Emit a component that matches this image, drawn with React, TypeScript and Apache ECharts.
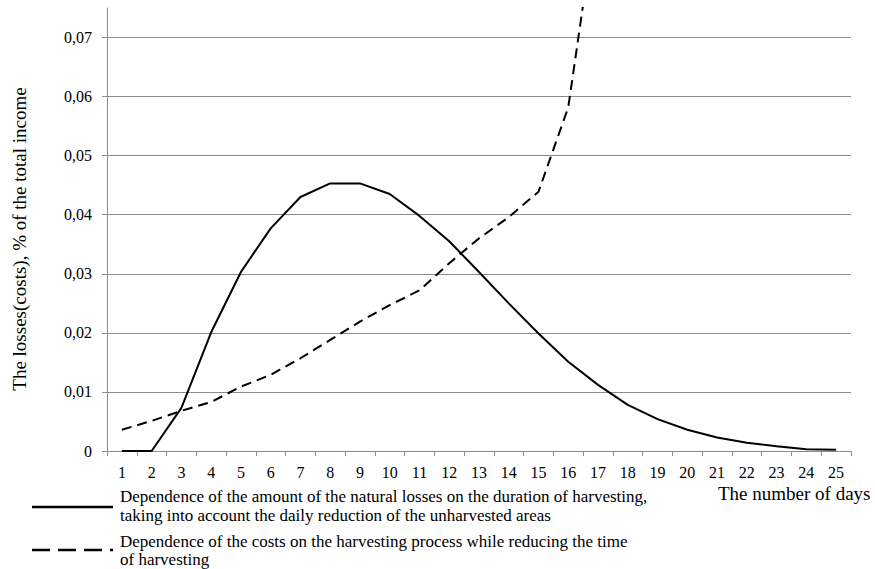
import React, { useEffect, useRef } from "react";
import * as echarts from "echarts";

const days = ["1","2","3","4","5","6","7","8","9","10","11","12","13","14","15","16","17","18","19","20","21","22","23","24","25"];
const naturalLosses = [0, 0, 0.0073, 0.0201, 0.0303, 0.0377, 0.043, 0.0453, 0.0453, 0.0435, 0.0398, 0.0355, 0.0303, 0.025, 0.0199, 0.0151, 0.0112, 0.0078, 0.0054, 0.0036, 0.0023, 0.0014, 0.0008, 0.0003, 0.0002];
const harvestCosts = [0.0036, 0.0051, 0.0068, 0.0083, 0.0109, 0.0129, 0.0157, 0.0188, 0.0219, 0.0247, 0.0272, 0.0318, 0.036, 0.0396, 0.0439, 0.0582, 0.093];
const yTicks = [0, 0.01, 0.02, 0.03, 0.04, 0.05, 0.06, 0.07];

const yName = "The losses(costs), % of the total income";
const xName = "The number of days";
const legend1a = "Dependence of the amount of the natural losses on the duration of harvesting,";
const legend1b = "taking into account the daily reduction of the unharvested areas";
const legend2a = "Dependence of the costs on the harvesting process while reducing the time";
const legend2b = "of harvesting";

const FONT = "Liberation Serif";
const GRAY = "#8c8c8c";

export default function App() {
  const ref = useRef<HTMLDivElement>(null);
  useEffect(() => {
    if (!ref.current) return;
    const chart = echarts.init(ref.current, null, { renderer: "svg" });
    const txt = (text: string, size: number, x: number, y: number, rotation = 0, align = "left") => ({
      type: "text",
      x,
      y,
      rotation,
      style: {
        text,
        fill: "#000",
        fontFamily: FONT,
        fontSize: size,
        align,
        verticalAlign: "middle",
      },
    });
    chart.setOption({
      animation: false,
      backgroundColor: "#fff",
      textStyle: { fontFamily: FONT },
      grid: { left: 107, right: 24, top: 8, bottom: 118, containLabel: false },
      xAxis: {
        type: "category",
        data: days,
        boundaryGap: true,
        axisLine: { show: true, lineStyle: { color: GRAY, width: 1 } },
        axisTick: { show: true, length: 5, lineStyle: { color: GRAY } },
        axisLabel: { interval: 0, color: "#000", fontSize: 16, fontFamily: FONT, margin: 13 },
        splitLine: { show: false },
      },
      yAxis: {
        type: "value",
        min: 0,
        max: 0.075,
        interval: 0.01,
        axisLine: { show: true, lineStyle: { color: GRAY, width: 1 } },
        axisTick: { show: true, length: 5, lineStyle: { color: GRAY } },
        axisLabel: {
          color: "#000",
          fontSize: 16,
          fontFamily: FONT,
          margin: 15,
          showMaxLabel: false,
          formatter: (v: number) => {
            const t = yTicks.find((k) => Math.abs(k - v) < 1e-9);
            if (t === undefined) return "";
            return t === 0 ? "0" : t.toFixed(2).replace(".", ",");
          },
        },
        splitLine: { show: true, showMaxLine: false, lineStyle: { color: GRAY, width: 1 } },
      },
      series: [
        {
          type: "line",
          data: naturalLosses,
          symbol: "none",
          lineStyle: { color: "#000", width: 2 },
          clip: true,
        },
        {
          type: "line",
          data: harvestCosts,
          symbol: "none",
          lineStyle: { color: "#000", width: 2, type: [10, 6] },
          clip: true,
        },
      ],
      graphic: [
        txt(yName, 19, 19, 239, Math.PI / 2, "center"),
        txt(xName, 19, 718, 493),
        {
          type: "line",
          shape: { x1: 32, y1: 507, x2: 113, y2: 507 },
          style: { stroke: "#000", lineWidth: 2.5 },
        },
        {
          type: "line",
          shape: { x1: 32, y1: 550, x2: 113, y2: 550 },
          style: { stroke: "#000", lineWidth: 2.5, lineDash: [18, 8] },
        },
        txt(legend1a, 17, 120, 496),
        txt(legend1b, 17, 120, 515),
        txt(legend2a, 17, 120, 541),
        txt(legend2b, 17, 120, 559),
      ],
    });
    return () => chart.dispose();
  }, []);
  return (
    <div
      ref={ref}
      style={{ position: "fixed", left: 0, top: 0, width: 875, height: 569, overflow: "hidden" }}
    />
  );
}
